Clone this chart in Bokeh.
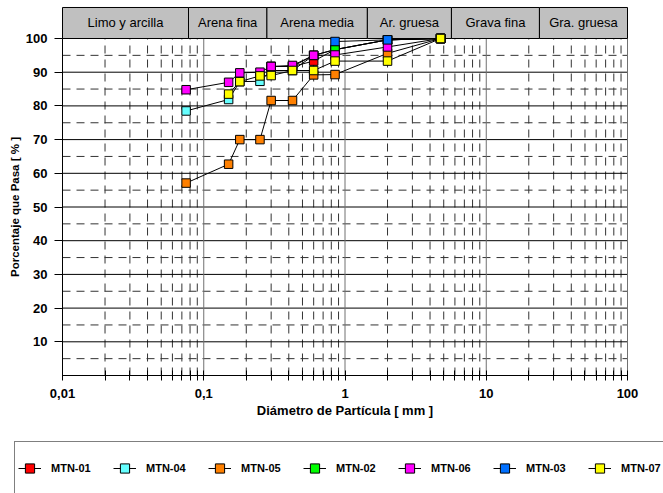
import math
from bokeh.plotting import figure
from bokeh.models import (Range1d, FixedTicker, CustomJSTickFormatter, Legend,
                          LegendItem, ColumnDataSource)
from bokeh.core.properties import value
from bokeh.embed import file_html
from bokeh.resources import INLINE

# ---------------- data ----------------
sieve_mm = [0.075, 0.15, 0.18, 0.25, 0.3, 0.425, 0.6, 0.85, 2.0, 4.75]

mtn_01 = [None, None, None, None, 91.7, 91.7, 93.3, 96.7, 99.6, 100]
mtn_04 = [78.5, 81.9, 87.2, 87.3, 90.5, 90.5, 95.0, 96.7, 99.6, 100]
mtn_05 = [57.1, 62.7, 70.0, 70.0, 81.6, 81.6, 89.2, 89.3, 95.6, 100]
mtn_02 = [None, None, None, None, 91.7, 91.7, 95.0, 96.7, 99.6, 100]
mtn_06 = [84.8, 87.0, 89.8, 90.0, 91.7, 92.0, 95.0, 95.1, 97.5, 100]
mtn_03 = [None, None, None, None, None, None, None, 99.1, 99.6, 100]
mtn_07 = [None, 83.5, 87.2, 88.9, 89.0, 90.5, 90.5, 93.3, 93.3, 100]

series_names = ["MTN-01", "MTN-04", "MTN-05", "MTN-02", "MTN-06", "MTN-03", "MTN-07"]
series_values = [mtn_01, mtn_04, mtn_05, mtn_02, mtn_06, mtn_03, mtn_07]
series_colors = ["#ff0000", "#66ffff", "#ff8000", "#00ff00", "#ff00ff", "#0070ff", "#ffff00"]

zone_labels = ["Limo y arcilla", "Arena fina", "Arena media", "Ar. gruesa", "Grava fina", "Gra. gruesa"]
zone_edges_mm = [0.01, 0.078, 0.28, 1.44, 5.67, 23.8, 100]

x_major_ticks = [0.01, 0.1, 1, 10, 100]
x_minor_ticks = [k * d for d in [0.01, 0.1, 1, 10] for k in range(2, 10)]
y_major_ticks = [10, 20, 30, 40, 50, 60, 70, 80, 90, 100]
y_minor_ticks = [5, 15, 25, 35, 45, 55, 65, 75, 85, 95]

X_MIN, X_MAX = 0.01, 100
Y_MIN, Y_MAX = 0, 100
Y_HDR = 109.2  # top of the header band

FONT = "Liberation Sans"

# the frame spans the whole canvas; the axes sit at fixed data locations
W, H = 663, 493
PX_DEC = 141.25           # pixels per decade
PX_PCT = 3.37             # pixels per percent
LEFT_PX, BOTTOM_PX = 62, 118
x_lo = 10 ** (math.log10(X_MIN) - LEFT_PX / PX_DEC)
x_hi = 10 ** (math.log10(X_MIN) + (W - LEFT_PX) / PX_DEC)
y_lo = -BOTTOM_PX / PX_PCT
y_hi = y_lo + H / PX_PCT

p = figure(width=W, height=H, x_axis_type="log",
           x_range=Range1d(x_lo, x_hi), y_range=Range1d(y_lo, y_hi),
           output_backend="svg", toolbar_location=None, min_border=0)
p.background_fill_color = "white"
p.border_fill_color = "white"
p.outline_line_color = None
p.xgrid.visible = False
p.ygrid.visible = False

p.xaxis.ticker = FixedTicker(ticks=x_major_ticks, minor_ticks=x_minor_ticks)
p.xaxis.formatter = CustomJSTickFormatter(code="return String(tick).replace('.', ',');")
p.xaxis.axis_label = "Diámetro de Partícula [ mm ]"
p.xaxis.fixed_location = Y_MIN
p.xaxis.bounds = (X_MIN, X_MAX)
p.yaxis.ticker = FixedTicker(ticks=y_major_ticks, minor_ticks=y_minor_ticks)
p.yaxis.axis_label = "Porcentaje que Pasa [ % ]"
p.yaxis.fixed_location = X_MIN
p.yaxis.bounds = (Y_MIN, Y_MAX)

for ax in (p.xaxis, p.yaxis):
    ax.axis_line_color = "black"
    ax.major_tick_line_color = "black"
    ax.minor_tick_line_color = "black"
    ax.major_label_text_font = FONT
    ax.major_label_text_font_style = "bold"
    ax.major_label_text_font_size = "13px"
    ax.major_label_text_color = "black"
    ax.axis_label_text_font = FONT
    ax.axis_label_text_font_style = "bold"
    ax.axis_label_text_color = "black"

p.xaxis.major_tick_in = 5
p.xaxis.major_tick_out = 5
p.xaxis.minor_tick_in = 5
p.xaxis.minor_tick_out = 5
p.xaxis.major_label_standoff = 8
p.xaxis.axis_label_text_font_size = "13px"
p.xaxis.axis_label_standoff = 2

p.yaxis.major_tick_in = 0
p.yaxis.major_tick_out = 8
p.yaxis.minor_tick_in = 0
p.yaxis.minor_tick_out = 0
p.yaxis.major_label_standoff = 7
p.yaxis.axis_label_text_font_size = "11.5px"
p.yaxis.axis_label_standoff = 2

# grid lines restricted to the data area
DASH = "8 6"
h_major = [t for t in y_major_ticks if t < Y_MAX]
p.segment(x0=[X_MIN] * len(y_minor_ticks), x1=[X_MAX] * len(y_minor_ticks),
          y0=y_minor_ticks, y1=y_minor_ticks, line_color="#333333", line_dash=DASH)
p.segment(x0=x_minor_ticks, x1=x_minor_ticks, y0=[Y_MIN] * len(x_minor_ticks),
          y1=[Y_MAX] * len(x_minor_ticks), line_color="#333333", line_dash=DASH)
p.segment(x0=[X_MIN] * len(h_major), x1=[X_MAX] * len(h_major),
          y0=h_major, y1=h_major, line_color="black")
v_major = [t for t in x_major_ticks if t > X_MIN]
p.segment(x0=v_major, x1=v_major, y0=[Y_MIN] * len(v_major),
          y1=[Y_MAX] * len(v_major), line_color="#707070")

# header band with soil classes
hdr = ColumnDataSource(dict(
    left=zone_edges_mm[:-1], right=zone_edges_mm[1:],
    bottom=[Y_MAX] * len(zone_labels), top=[Y_HDR] * len(zone_labels),
    xc=[math.sqrt(a * b) for a, b in zip(zone_edges_mm[:-1], zone_edges_mm[1:])],
    yc=[(Y_MAX + Y_HDR) / 2] * len(zone_labels),
    label=zone_labels))
p.quad(left="left", right="right", bottom="bottom", top="top", source=hdr,
       fill_color="#c0c0c0", line_color="black", line_width=1)
p.text(x="xc", y="yc", text="label", source=hdr, text_align="center",
       text_baseline="middle", text_font=value(FONT), text_font_size="13px",
       text_color="black")

items = []
for name, vals, col in zip(series_names, series_values, series_colors):
    xs = [x for x, v in zip(sieve_mm, vals) if v is not None]
    ys = [v for v in vals if v is not None]
    src = ColumnDataSource(dict(x=xs, y=ys))
    lr = p.line("x", "y", source=src, line_color="black", line_width=1)
    sr = p.scatter("x", "y", source=src, marker="square", size=8.5,
                   fill_color=col, line_color="black", line_width=1)
    items.append(LegendItem(label=name, renderers=[lr, sr]))

legend = Legend(items=items, orientation="horizontal", location=(14, -2),
                glyph_width=23, glyph_height=46, label_standoff=10,
                label_width=47, spacing=15, padding=3, margin=0,
                border_line_color="black", border_line_width=1,
                background_fill_color="white", background_fill_alpha=1,
                label_text_font=FONT, label_text_font_style="bold",
                label_text_font_size="11px", label_text_color="black")
p.add_layout(legend, "center")

open("out.html", "w").write(file_html(p, INLINE))
